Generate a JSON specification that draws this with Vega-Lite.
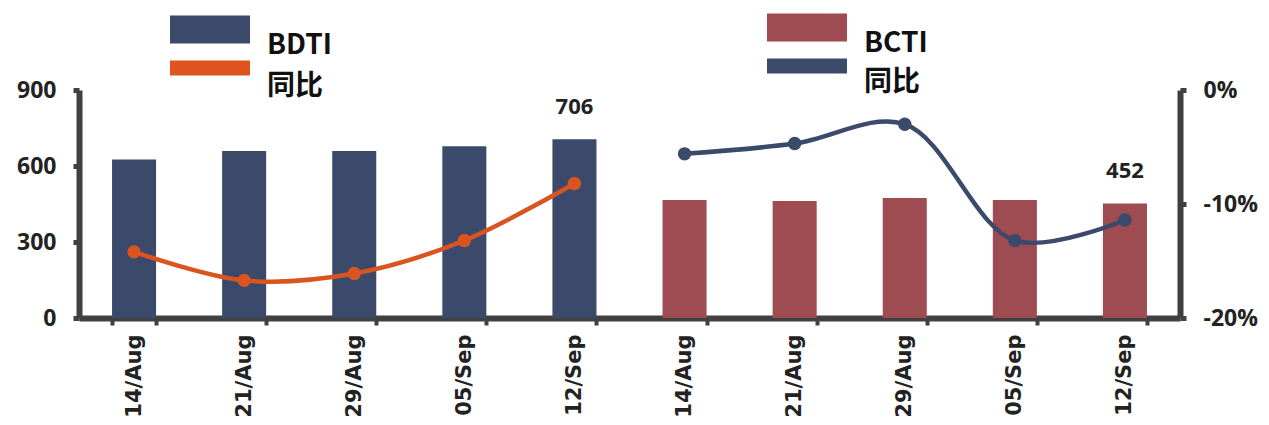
{
  "$schema": "https://vega.github.io/schema/vega-lite/v6.json",
  "width": 1101,
  "height": 228,
  "autosize": "none",
  "padding": {"left": 79, "top": 90, "right": 89, "bottom": 107},
  "background": "white",
  "config": {
    "view": {"stroke": null},
    "font": "Open Sans",
    "axis": {
      "grid": false,
      "domainColor": "#404040",
      "domainWidth": 6,
      "tickColor": "#404040",
      "tickWidth": 5,
      "tickSize": 6,
      "labelColor": "#222222",
      "labelFontWeight": "bold",
      "labelFontSize": 23,
      "labelFont": "Open Sans",
      "title": null
    }
  },
  "data": {
    "values": [
      {"key": "BDTI|14/Aug", "grp": "BDTI", "value": 626, "yoy": -0.142, "lab": null},
      {"key": "BDTI|21/Aug", "grp": "BDTI", "value": 659, "yoy": -0.167, "lab": null},
      {"key": "BDTI|29/Aug", "grp": "BDTI", "value": 659, "yoy": -0.161, "lab": null},
      {"key": "BDTI|05/Sep", "grp": "BDTI", "value": 678, "yoy": -0.132, "lab": null},
      {"key": "BDTI|12/Sep", "grp": "BDTI", "value": 706, "yoy": -0.082, "lab": "706"},
      {"key": "BCTI|14/Aug", "grp": "BCTI", "value": 466, "yoy": -0.056, "lab": null},
      {"key": "BCTI|21/Aug", "grp": "BCTI", "value": 462, "yoy": -0.047, "lab": null},
      {"key": "BCTI|29/Aug", "grp": "BCTI", "value": 474, "yoy": -0.030, "lab": null},
      {"key": "BCTI|05/Sep", "grp": "BCTI", "value": 466, "yoy": -0.132, "lab": null},
      {"key": "BCTI|12/Sep", "grp": "BCTI", "value": 452, "yoy": -0.114, "lab": "452"}
    ]
  },
  "encoding": {
    "x": {
      "field": "key",
      "type": "nominal",
      "scale": {
        "domain": ["BDTI|14/Aug", "BDTI|21/Aug", "BDTI|29/Aug", "BDTI|05/Sep", "BDTI|12/Sep", "BCTI|14/Aug", "BCTI|21/Aug", "BCTI|29/Aug", "BCTI|05/Sep", "BCTI|12/Sep"],
        "paddingInner": 0.6,
        "paddingOuter": 0.3
      },
      "axis": {
        "labelExpr": "split(datum.label, '|')[1]",
        "labelAngle": 270,
        "labelAlign": "right",
        "labelBaseline": "middle",
        "labelFont": "DejaVu Sans",
        "labelFontSize": 21,
        "labelPadding": 9,
        "tickBand": "extent",
        "tickSize": 7,
        "tickWidth": 4
      }
    }
  },
  "layer": [
    {
      "transform": [{"filter": "datum.grp === 'BDTI'"}],
      "mark": {"type": "bar", "color": "#3b4a6b"},
      "encoding": {
        "y": {
          "field": "value",
          "type": "quantitative",
          "scale": {"domain": [0, 900], "nice": false},
          "axis": {"values": [0, 300, 600, 900], "labelPadding": 17, "orient": "left"}
        },
        "color": {
          "datum": "BDTI",
          "scale": {"domain": ["BDTI", "同比"], "range": ["#3b4a6b", "#df541e"]},
          "legend": {
            "orient": "none",
            "legendX": 91,
            "legendY": -78,
            "title": null,
            "padding": 0,
            "rowPadding": 0,
            "symbolSize": 1225,
            "symbolType": "M-1,-0.8H3.571V0.8H-1Z",
            "symbolStrokeWidth": 0,
            "symbolOpacity": 1,
            "labelOffset": 62,
            "labelFontSize": 28,
            "labelFontWeight": "bold",
            "labelColor": "#111111",
            "labelBaseline": "middle",
            "labelFont": "Noto Sans CJK SC",
            "encode": {
              "symbols": {"update": {"shape": {"signal": "datum.value === '同比' ? 'M-1,-1.257H3.571V-0.4H-1Z' : 'M-1,-0.8H3.571V0.8H-1Z'"}}},
              "labels": {"update": {"dy": {"signal": "datum.value === '同比' ? 4 : 16"}, "fontSize": {"value": 28}, "fontWeight": {"value": "bold"}, "font": {"value": "Noto Sans CJK SC"}, "fill": {"value": "#111111"}}}
            }
          }
        }
      }
    },
    {
      "transform": [{"filter": "datum.grp === 'BCTI'"}],
      "mark": {"type": "bar", "color": "#9e4b51"},
      "encoding": {
        "y": {
          "field": "value",
          "type": "quantitative",
          "scale": {"domain": [0, 900], "nice": false},
          "axis": null
        },
        "color": {
          "datum": "BCTI",
          "scale": {"domain": ["BCTI", "同比"], "range": ["#9e4b51", "#3b4a6b"]},
          "legend": {
            "orient": "none",
            "legendX": 688,
            "legendY": -80,
            "title": null,
            "padding": 0,
            "rowPadding": 0,
            "symbolSize": 1225,
            "symbolType": "M-1,-0.8H3.571V0.8H-1Z",
            "symbolStrokeWidth": 0,
            "symbolOpacity": 1,
            "labelOffset": 62,
            "labelFontSize": 28,
            "labelFontWeight": "bold",
            "labelColor": "#111111",
            "labelBaseline": "middle",
            "labelFont": "Noto Sans CJK SC",
            "encode": {
              "symbols": {"update": {"shape": {"signal": "datum.value === '同比' ? 'M-1,-1.143H3.571V-0.286H-1Z' : 'M-1,-0.8H3.571V0.8H-1Z'"}}},
              "labels": {"update": {"dy": {"signal": "datum.value === '同比' ? 4 : 16"}, "fontSize": {"value": 28}, "fontWeight": {"value": "bold"}, "font": {"value": "Noto Sans CJK SC"}, "fill": {"value": "#111111"}}}
            }
          }
        }
      }
    },
    {
      "transform": [{"filter": "datum.grp === 'BDTI'"}],
      "mark": {"type": "line", "color": "#d9541f", "strokeWidth": 4.5, "interpolate": "catmull-rom"},
      "encoding": {
        "y": {
          "field": "yoy",
          "type": "quantitative",
          "scale": {"domain": [-0.2, 0], "nice": false},
          "axis": {"orient": "right", "values": [-0.2, -0.1, 0], "labelExpr": "(datum.value < 0 ? '-' : '') + format(abs(datum.value), '.0%')", "labelPadding": 17}
        }
      }
    },
    {
      "transform": [{"filter": "datum.grp === 'BDTI'"}],
      "mark": {"type": "circle", "color": "#d9541f", "size": 180, "opacity": 1},
      "encoding": {
        "y": {"field": "yoy", "type": "quantitative", "scale": {"domain": [-0.2, 0], "nice": false}, "axis": null}
      }
    },
    {
      "transform": [{"filter": "datum.grp === 'BCTI'"}],
      "mark": {"type": "line", "color": "#3b4a6b", "strokeWidth": 4.5, "interpolate": "catmull-rom"},
      "encoding": {
        "y": {"field": "yoy", "type": "quantitative", "scale": {"domain": [-0.2, 0], "nice": false}, "axis": null}
      }
    },
    {
      "transform": [{"filter": "datum.grp === 'BCTI'"}],
      "mark": {"type": "circle", "color": "#3b4a6b", "size": 180, "opacity": 1},
      "encoding": {
        "y": {"field": "yoy", "type": "quantitative", "scale": {"domain": [-0.2, 0], "nice": false}, "axis": null}
      }
    },
    {
      "transform": [{"filter": "datum.lab !== null"}],
      "mark": {"type": "text", "baseline": "bottom", "dy": -20, "fontSize": 22, "fontWeight": "bold", "font": "Open Sans", "color": "#222222"},
      "encoding": {
        "y": {"field": "value", "type": "quantitative", "scale": {"domain": [0, 900], "nice": false}, "axis": null},
        "text": {"field": "lab"}
      }
    }
  ],
  "resolve": {"scale": {"y": "independent", "color": "independent"}}
}
